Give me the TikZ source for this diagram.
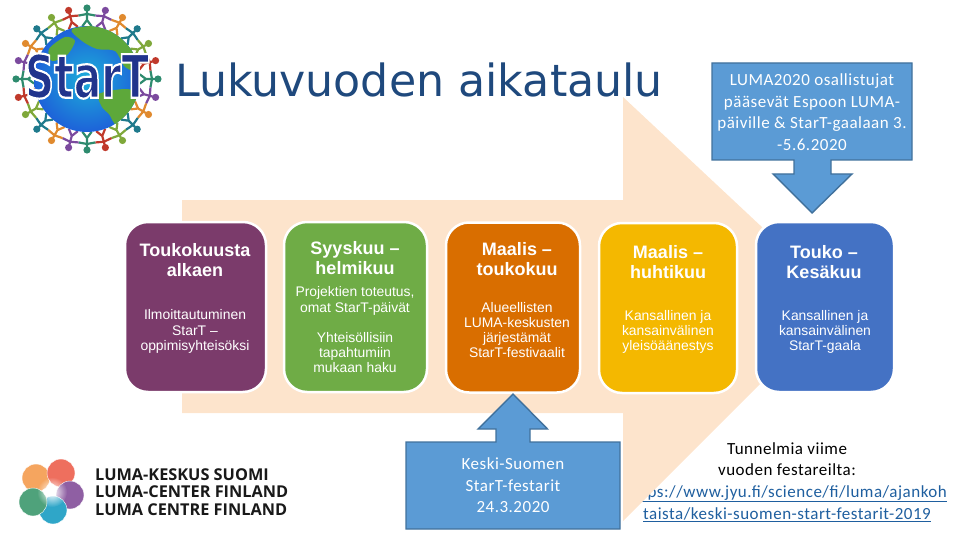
\documentclass[tikz,border=0pt]{standalone}
\usepackage{fontspec}
\setmainfont{Liberation Sans}
\newfontfamily\titlefont{DejaVu Sans}
\newfontfamily\calfont[LetterSpace=3]{Carlito}
\newfontfamily\lumafont{Open Sans}
\newfontfamily\starfont{DejaVu Sans}
\usetikzlibrary{fadings}
\tikzfading[name=petalglow,inner color=transparent!0,outer color=transparent!100]
\definecolor{peach}{HTML}{FDE4CC}
\definecolor{calfill}{HTML}{5B9BD5}
\definecolor{caledge}{HTML}{41719C}
\definecolor{linkblue}{HTML}{1F5F9F}
\definecolor{land}{HTML}{5DA83A}
\definecolor{sea}{HTML}{2A8CC8}
\definecolor{ppl0}{HTML}{C0392B}
\definecolor{ppl1}{HTML}{2E8B6E}
\definecolor{ppl2}{HTML}{7B4A9E}
\definecolor{ppl3}{HTML}{E08A2E}
\definecolor{ppl4}{HTML}{1F7A8C}
\definecolor{ppl5}{HTML}{7FA83A}
\begin{document}
\begin{tikzpicture}[x=1pt,y=-1pt,stagebox/.style={draw=white,line width=2.5pt,rounded corners=23pt,minimum height=170pt,inner sep=0pt},stagehead/.style={text=white,align=center,font=\fontsize{18}{20}\selectfont\bfseries},stagebody/.style={text=white,align=center,font=\fontsize{13.9}{15.2}\selectfont},callout/.style={fill=calfill,draw=caledge,line width=1.4pt},caltext/.style={text=white,align=center,font=\calfont\fontsize{17}{21.6}\selectfont},linktext/.style={text=linkblue,anchor=base,inner sep=0pt,font=\calfont\fontsize{17}{20}\selectfont},lumaline/.style={anchor=base west,inner sep=0pt,text=black!90,font=\lumafont\fontsize{16.3}{17.6}\selectfont\bfseries}]
\useasboundingbox (0,0) rectangle (960,540);
% link lines go under the big arrow
\node[linktext] (linkone) at (787,497) {\underline{https://www.jyu.fi/science/fi/luma/ajankoh}};
\node[linktext] (linktwo) at (787,519) {\underline{taista/keski-suomen-start-festarit-2019}};
\fill[peach] (182,200) -- (623,200) -- (623,97) -- (842,302) -- (623,521) -- (623,413) -- (182,413) -- cycle;
\node[anchor=base west,inner sep=0pt,text={rgb,255:red,31;green,73;blue,125},font=\titlefont\fontsize{44.3}{50}\selectfont] (title) at (175,97) {Lukuvuoden aikataulu};
% stage boxes
\node[stagebox,fill={rgb,255:red,123;green,59;blue,107},minimum width=141pt] (toukokuu) at (195.5,307) {};
\node[stagebox,fill={rgb,255:red,111;green,172;blue,70},minimum width=143pt] (syyskuu) at (355.5,307) {};
\node[stagebox,fill={rgb,255:red,217;green,110;blue,0},minimum width=134pt] (maalistouko) at (513,307.5) {};
\node[stagebox,fill={rgb,255:red,244;green,184;blue,0},minimum width=138pt] (maalishuhti) at (668,308) {};
\node[stagebox,fill={rgb,255:red,68;green,114;blue,196},minimum width=138pt] (kesakuu) at (825,307) {};
\node[stagehead] (toukokuuhead) at (195,260) {Toukokuusta\\alkaen};
\node[stagebody] (toukokuubody) at (195,331.5) {Ilmoittautuminen\\StarT --\\oppimisyhteisöksi};
\node[stagehead] (syyskuuhead) at (355,258.5) {Syyskuu --\\helmikuu};
\node[stagebody] (syyskuubodya) at (355,301) {Projektien toteutus,\\omat StarT-päivät};
\node[stagebody] (syyskuubodyb) at (355,352.5) {Yhteisöllisiin\\tapahtumiin\\mukaan haku};
\node[stagehead] (maalistoukohead) at (517,259) {Maalis --\\toukokuu};
\node[stagebody] (maalistoukobody) at (517,330) {Alueellisten\\LUMA-keskusten\\järjestämät\\StarT-festivaalit};
\node[stagehead] (maalishuhtihead) at (668,262.5) {Maalis --\\huhtikuu};
\node[stagebody] (maalishuhtibody) at (668,332) {Kansallinen ja\\kansainvälinen\\yleisöäänestys};
\node[stagehead] (kesakuuhead) at (824,262) {Touko --\\Kesäkuu};
\node[stagebody] (kesakuubody) at (825,332) {Kansallinen ja\\kansainvälinen\\StarT-gaala};
% callouts
\draw[callout] (712,63) -- (912,63) -- (912,160) -- (831,160) -- (831,174) -- (852,174) -- (812,213) -- (773,174) -- (794,174) -- (794,160) -- (712,160) -- cycle;
\node[caltext] (gaala) at (812,112) {LUMA2020 osallistujat\\pääsevät Espoon LUMA-\\päiville \& StarT-gaalaan 3.\\-5.6.2020};
\draw[callout] (406,442) -- (496,442) -- (496,429) -- (478,429) -- (513,394) -- (547.5,429) -- (530,429) -- (530,442) -- (620,442) -- (620,529) -- (406,529) -- cycle;
\node[caltext] (festarit) at (513,485.5) {Keski-Suomen\\StarT-festarit\\24.3.2020};
\node[align=center,text=black,font=\calfont\fontsize{17}{21.6}\selectfont] (tunnelmia) at (787,459) {Tunnelmia viime\\vuoden festareilta:};
% StarT logo
\begin{scope}[shift={(87,79)}]
\foreach \a [count=\k] in {0,15,...,345}{
\pgfmathtruncatemacro\c{mod(\k,6)}
\fill[ppl\c] (\a:71) circle (3.6pt);
\draw[ppl\c,line width=2.2pt] (\a:68) -- (\a:59) (\a+7.5:64) -- (\a:65) -- (\a-7.5:64) (\a+5:53) -- (\a:59) -- (\a-5:53);
}
\shade[inner color=sea!70!cyan,outer color=sea!70!blue] (0,0) circle (53pt);
\begin{scope}
\clip (0,0) circle (53pt);
\fill[land] plot[smooth cycle] coordinates {(-15,-50) (20,-52) (48,-30) (52,-8) (38,-12) (28,-28) (10,-30) (-5,-38)};
\fill[land] plot[smooth cycle] coordinates {(12,15) (38,10) (52,15) (48,35) (30,46) (22,35) (15,28)};
\fill[land] plot[smooth cycle] coordinates {(-38,-30) (-22,-42) (-12,-38) (-20,-24) (-35,-18)};
\end{scope}
\end{scope}
\node[inner sep=0pt,text={rgb,255:red,33;green,52;blue,140}] (startlogo) at (87,76) {\scalebox{0.68}[1]{\special{pdf:code 1 1 1 RG 2.2 w 2 Tr}\starfont\fontsize{60}{60}\selectfont\bfseries StarT\special{pdf:code 0 Tr}}};
% LUMA logo
\fill[draw=white,fill={rgb,255:red,245;green,165;blue,95}] (36,478) circle (14pt);
\fill[draw=white,fill={rgb,255:red,238;green,111;blue,94}] (61,473) circle (14pt);
\fill[draw=white,fill={rgb,255:red,143;green,95;blue,163}] (70,495) circle (14pt);
\fill[draw=white,fill={rgb,255:red,47;green,166;blue,200}] (53,510) circle (14pt);
\fill[draw=white,fill={rgb,255:red,79;green,162;blue,123}] (33,502) circle (14pt);
\fill[white,path fading=petalglow] (52,492) circle (15pt);
\node[lumaline] (lumakeskus) at (95,480) {LUMA-KESKUS SUOMI};
\node[lumaline] (lumacenter) at (95,497.5) {LUMA-CENTER FINLAND};
\node[lumaline] (lumacentre) at (95,515.5) {LUMA CENTRE FINLAND};
\end{tikzpicture}
\end{document}
